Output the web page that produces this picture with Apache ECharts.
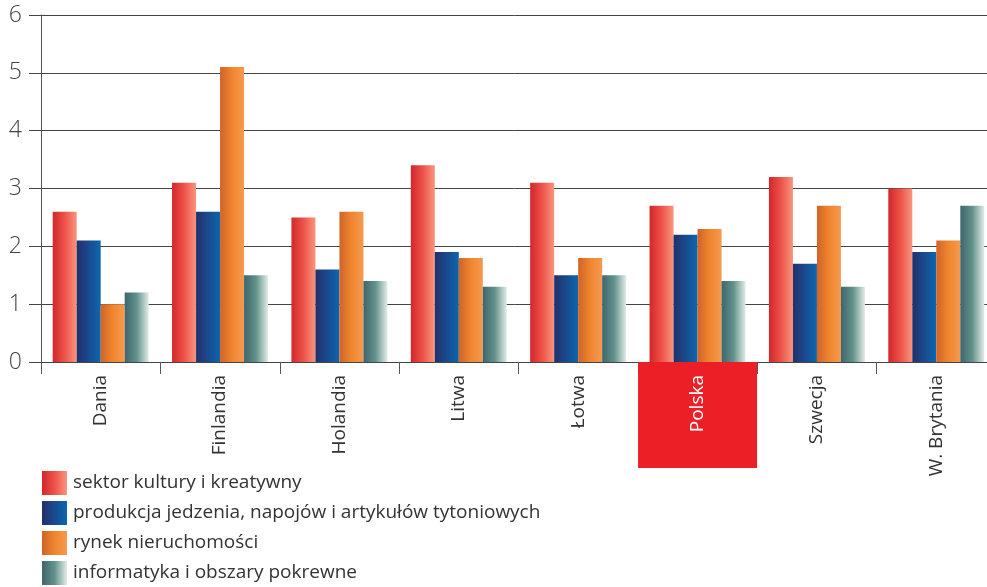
<!DOCTYPE html>
<html><head><meta charset="utf-8">
<script src="https://cdn.jsdelivr.net/npm/echarts@6/dist/echarts.min.js"></script>
<style>html,body{margin:0;padding:0;background:#fff}#c{width:987px;height:587px}</style>
</head><body><div id="c"></div>
<script>
const categories = ['Dania','Finlandia','Holandia','Litwa','Łotwa','Polska','Szwecja','W. Brytania'];
const highlighted = 'Polska';
const seriesNames = ['sektor kultury i kreatywny','produkcja jedzenia, napojów i artykułów tytoniowych','rynek nieruchomości','informatyka i obszary pokrewne'];
const kultura = [2.6, 3.1, 2.5, 3.4, 3.1, 2.7, 3.2, 3.0];
const jedzenie = [2.1, 2.6, 1.6, 1.9, 1.5, 2.2, 1.7, 1.9];
const nieruchomosci = [1.0, 5.1, 2.6, 1.8, 1.8, 2.3, 2.7, 2.1];
const informatyka = [1.2, 1.5, 1.4, 1.3, 1.5, 1.4, 1.3, 2.7];
const yTicks = [0,1,2,3,4,5,6];

const grads = [
  ['#d3262c','#ee5248','#f8957f'],
  ['#22306a','#1a4a8e','#0a67ae'],
  ['#cf6428','#f0852e','#f59a50'],
  ['#3e666e','#62928a','#e2ece8']
];
function g(c){return new echarts.graphic.LinearGradient(0,0,1,0,[{offset:0,color:c[0]},{offset:0.5,color:c[1]},{offset:1,color:c[2]}]);}
const dataSets=[kultura,jedzenie,nieruchomosci,informatyka];
const font='"Open Sans", "Noto Sans", sans-serif';
const chart = echarts.init(document.getElementById('c'));
chart.setOption({
  animation:false,
  grid:{left:41, top:15, width:955, height:347, containLabel:false, outerBoundsMode:'none'},
  legend:{orient:'vertical', left:42, top:471, padding:0, height:120, itemWidth:25, itemHeight:24, itemGap:6,
    icon:'rect', textStyle:{fontSize:19, color:'#333', fontFamily:font, padding:[0,0,0,1]},
    data:seriesNames},
  xAxis:{type:'category', data:categories,
    axisLine:{lineStyle:{color:'#444', width:1}},
    axisTick:{show:true, length:12, lineStyle:{color:'#555'}},
    axisLabel:{rotate:90, margin:0, interval:0, fontFamily:font, fontSize:19, color:'#333',
      formatter:function(v){return v===highlighted?'{hl|'+v+'}':'{n|'+v+'}';},
      rich:{
        n:{padding:[0,13,0,0], fontSize:19, color:'#333', fontFamily:font},
        hl:{backgroundColor:'#ec1f27', color:'#fff', fontSize:19, fontFamily:font, width:93, height:119, lineHeight:119, align:'right', padding:[0,13,0,0]}
      }}
  },
  yAxis:{type:'value', min:yTicks[0], max:yTicks[yTicks.length-1], interval:1,
    axisLine:{show:true, lineStyle:{color:'#555'}},
    axisTick:{show:true, length:12, lineStyle:{color:'#444'}},
    splitLine:{lineStyle:{color:'#444', width:1}},
    axisLabel:{margin:19, fontSize:23, color:'#444', fontFamily:font, fontWeight:300}
  },
  series:seriesNames.map((n,i)=>({name:n, type:'bar', data:dataSets[i], barWidth:24, barGap:'0%',
    itemStyle:{color:g(grads[i])}}))
});
</script></body></html>
